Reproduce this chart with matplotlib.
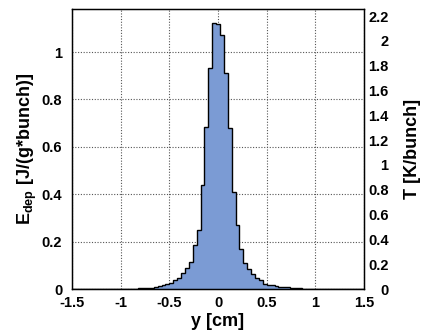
import numpy as np
import matplotlib
matplotlib.use("Agg")
from matplotlib import pyplot as plt

plt.rcParams['font.family'] = ['Liberation Sans', 'DejaVu Sans']
plt.rcParams['font.weight'] = 'bold'
plt.rcParams['mathtext.fontset'] = 'custom'
plt.rcParams['mathtext.rm'] = 'Liberation Sans:bold'
plt.rcParams['mathtext.bf'] = 'Liberation Sans:bold'

# histogram: 75 bins between -1.5 and 1.5 cm
y_lo, y_hi, n_bins = -1.5, 1.5, 75
edep = [0.0] * 15 + [
    0.001, 0.002, 0.004, 0.003, 0.004, 0.005, 0.008, 0.011, 0.017, 0.023,
    0.025, 0.036, 0.048, 0.066, 0.088, 0.112, 0.186, 0.249, 0.439, 0.685,
    0.934, 1.124, 1.118, 1.071, 0.913, 0.678, 0.411, 0.270, 0.170, 0.111,
    0.084, 0.064, 0.046, 0.040, 0.021, 0.018, 0.015, 0.011, 0.008, 0.009,
    0.007, 0.005, 0.004, 0.003, 0.002, 0.001,
] + [0.0] * 14
x_ticks = [-1.5, -1, -0.5, 0, 0.5, 1, 1.5]
x_ticklabels = ['-1.5', '-1', '-0.5', '0', '0.5', '1', '1.5']
e_ticks = [0, 0.2, 0.4, 0.6, 0.8, 1.0]
e_ticklabels = ['0', '0.2', '0.4', '0.6', '0.8', '1']
t_ticks = [0, 0.2, 0.4, 0.6, 0.8, 1.0, 1.2, 1.4, 1.6, 1.8, 2.0, 2.2]
t_ticklabels = ['0', '0.2', '0.4', '0.6', '0.8', '1', '1.2', '1.4', '1.6', '1.8', '2', '2.2']
t_per_e = 1.91   # K/bunch per J/(g*bunch)
e_max = 1.181

edges = np.linspace(y_lo, y_hi, n_bins + 1)

fig = plt.figure(figsize=(4.23, 3.34), dpi=100)
ax = fig.add_axes([0.170, 0.1347, 0.691, 0.838])

ax.stairs(edep, edges, fill=True, color='#7b9bd4', baseline=0, zorder=2)
ax.stairs(edep, edges, color='black', linewidth=1.0, baseline=None, zorder=3)

ax.set_xlim(y_lo, y_hi)
ax.set_ylim(0, e_max)
ax.set_xticks(x_ticks)
ax.set_xticklabels(x_ticklabels)
ax.set_yticks(e_ticks)
ax.set_yticklabels(e_ticklabels)
ax.grid(True, linestyle=(0, (1, 1.5)), color='#555555', linewidth=0.8, zorder=0)
ax.set_axisbelow(True)
ax.tick_params(axis='both', length=0, labelsize=10.5)
ax.tick_params(axis='x', pad=5)
ax.tick_params(axis='y', pad=7)
for s in ax.spines.values():
    s.set_linewidth(1.0)

ax.set_xlabel('y [cm]', fontsize=13, fontweight='bold', labelpad=2)
ax.set_ylabel(r'E$_{\mathrm{dep}}$ [J/(g*bunch)]', fontsize=13, fontweight='bold', labelpad=2)

ax2 = ax.twinx()
ax2.set_ylim(0, e_max * t_per_e)
ax2.set_yticks(t_ticks)
ax2.set_yticklabels(t_ticklabels, ha='right')
ax2.tick_params(axis='y', length=0, labelsize=10.5, pad=17.5)
ax2.set_ylabel('T [K/bunch]', fontsize=13, fontweight='bold', labelpad=11)

fig.savefig('out.png', dpi=100)
